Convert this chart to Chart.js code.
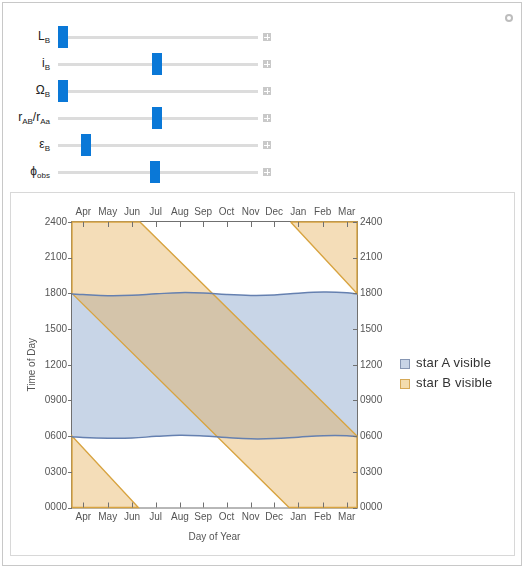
<!DOCTYPE html>
<html><head><meta charset="utf-8">
<script src="https://cdn.jsdelivr.net/npm/chart.js@4.4.0/dist/chart.umd.min.js"></script>
<style>
html,body{margin:0;padding:0;background:#fff;width:525px;height:569px;overflow:hidden;font-family:"Liberation Sans",Arial,sans-serif;}
.abs{position:absolute;}
#outer{left:2px;top:2px;width:520px;height:564px;border:1px solid #c8c8c8;box-sizing:border-box;background:#fff;}
#inner{left:10px;top:192px;width:505px;height:364px;border:1px solid #d8d8d8;box-sizing:border-box;background:#fff;}
.lbl{width:60px;text-align:right;font-size:12px;color:#222;line-height:16px;}
.lbl sub{font-size:8px;vertical-align:-3px;line-height:0;}
.track{height:3px;background:#dcdcdc;width:200px;left:58px;}
.thumb{width:10px;height:22px;background:#0a78d7;}
.plus{width:8px;height:8px;background:#c9c9c9;left:263px;}
.plus:before{content:"";position:absolute;left:1px;top:3.5px;width:6px;height:1px;background:#fff;}
.plus:after{content:"";position:absolute;left:3.5px;top:1px;width:1px;height:6px;background:#fff;}
#circ{left:505px;top:14px;width:8px;height:8px;border-radius:50%;background:#bdbdbd;}
#circ:before{content:"";position:absolute;left:2px;top:2px;width:4px;height:4px;border-radius:50%;background:#fff;}
.lg{font-size:13px;color:#333;line-height:16px;letter-spacing:0.2px;}
.sq{width:8px;height:8px;}
</style></head>
<body>
<div id="outer" class="abs"></div>
<div id="circ" class="abs"></div>
<div id="sliders"></div>
<div id="inner" class="abs"></div>
<div class="abs" style="left:10px;top:192px;width:505px;height:364px;">
<canvas id="c" width="505" height="364"></canvas>
</div>
<div class="abs sq" style="left:400px;top:359px;background:#c8d4e6;border:1px solid #8696b3;"></div>
<div class="abs lg" style="left:416px;top:355px;">star A visible</div>
<div class="abs sq" style="left:400px;top:379px;background:#f3dcae;border:1px solid #d6a957;"></div>
<div class="abs lg" style="left:416px;top:375px;">star B visible</div>
<script>
// ---- data ----
const sliderLabels = ['L<sub>B</sub>','i<sub>B</sub>','Ω<sub>B</sub>','r<sub>AB</sub>/r<sub>Aa</sub>','ε<sub>B</sub>','ϕ<sub>obs</sub>'];
const sliderFractions = [0.0, 0.47, 0.0, 0.47, 0.115, 0.46];

const monthTicks = [14.5, 45.7, 76.8, 107.1, 138.2, 168, 198, 228.8, 259, 289.7, 321, 351.8];
const monthLabels = ['Apr','May','Jun','Jul','Aug','Sep','Oct','Nov','Dec','Jan','Feb','Mar'];
const hourTicks = [0, 3, 6, 9, 12, 15, 18, 21, 24];
const hourLabels = ['0000','0300','0600','0900','1200','1500','1800','2100','2400'];

// star A (visible band between rise and set curves)
const curveDays = [0, 14, 46, 77, 108, 138, 168, 198, 229, 259, 290, 322, 352, 365];
const starARise = [5.95, 5.88, 5.82, 5.84, 5.98, 6.08, 6.02, 5.88, 5.77, 5.79, 5.91, 6.03, 6.03, 5.95];
const starASet  = [17.95, 17.9, 17.81, 17.84, 17.96, 18.06, 18.03, 17.9, 17.83, 17.86, 18.02, 18.11, 18.06, 17.95];

// star B visible regions (polygon outlines)
const bandBDays  = [0, 0, 87, 365, 365, 278, 0];
const bandBHours = [18, 24, 24, 6, 0, 0, 18];
const lowBDays   = [0, 0, 85, 0];
const lowBHours  = [0, 6, 0, 0];
const highBDays  = [280, 365, 365, 280];
const highBHours = [24, 24, 18, 24];

// ---- sliders (UI) ----
const rowsY = [37, 64, 91, 118, 145, 172];
let html = '';
sliderLabels.forEach((l, i) => {
  const cy = rowsY[i];
  html += `<div class="abs lbl" style="left:-10px;top:${cy-9}px;">${l}</div>`;
  html += `<div class="abs track" style="top:${cy-1}px;"></div>`;
  html += `<div class="abs thumb" style="left:${58 + sliderFractions[i]*200}px;top:${cy-11}px;"></div>`;
  html += `<div class="abs plus" style="top:${cy-4}px;"></div>`;
});
document.getElementById('sliders').innerHTML = html;

const pts = (xs, ys) => xs.map((x, i) => ({x, y: ys[i]}));

const ORANGE_FILL = 'rgba(228,175,85,0.42)';
const ORANGE_LINE = '#d8a441';
const BLUE_FILL = '#c8d5e7';
const BLUE_LINE = '#6580b0';

const frameTicks = {
  id: 'frameTicks',
  beforeDatasetsDraw(chart) {
    const {ctx, chartArea: a} = chart;
    ctx.save();
    ctx.strokeStyle = '#707070';
    ctx.lineWidth = 1;
    ctx.strokeRect(a.left - 0.5, a.top - 0.5, a.right - a.left + 1, a.bottom - a.top + 1);
    ctx.restore();
  },
  afterDatasetsDraw(chart) {
    const {ctx, chartArea: a, scales} = chart;
    ctx.save();
    ctx.strokeStyle = '#707070';
    ctx.lineWidth = 1;
    ctx.beginPath();
    monthTicks.forEach(v => {
      const px = Math.round(scales.x.getPixelForValue(v)) + 0.5;
      ctx.moveTo(px, a.bottom); ctx.lineTo(px, a.bottom - 5);
      ctx.moveTo(px, a.top); ctx.lineTo(px, a.top + 5);
    });
    hourTicks.forEach(v => {
      const py = Math.round(scales.y.getPixelForValue(v)) + 0.5;
      ctx.moveTo(a.left - 4, py); ctx.lineTo(a.left, py);
      ctx.moveTo(a.right - 4, py); ctx.lineTo(a.right, py);
    });
    ctx.stroke();
    ctx.restore();
  }
};

const font = {family: '"Liberation Sans", Arial, sans-serif', size: 10};
const xTicksCfg = {
  autoSkip: false, maxRotation: 0, minRotation: 0, font, color: '#555', padding: 4,
  callback: (v, i) => monthLabels[i]
};
const yTicksCfg = {
  autoSkip: false, font, color: '#555',
  callback: (v, i) => hourLabels[i]
};
const setMonths = s => { s.ticks = monthTicks.map(v => ({value: v})); };
const setHours = s => { s.ticks = hourTicks.map(v => ({value: v})); };

new Chart(document.getElementById('c'), {
  type: 'line',
  data: {
    datasets: [
      {label: 'A rise', data: pts(curveDays, starARise), order: 3, borderWidth: 0, pointRadius: 0, fill: false, tension: 0.4, borderColor: 'rgba(0,0,0,0)'},
      {label: 'star A visible', data: pts(curveDays, starASet), order: 2, borderWidth: 0, pointRadius: 0, fill: '-1', tension: 0.4, backgroundColor: BLUE_FILL, borderColor: 'rgba(0,0,0,0)'},
      {label: 'star B visible', data: pts(bandBDays, bandBHours), order: 1, fill: 'shape', backgroundColor: ORANGE_FILL, borderColor: ORANGE_LINE, borderWidth: 1.4, pointRadius: 0, tension: 0, clip: 3},
      {label: 'B low', data: pts(lowBDays, lowBHours), order: 1, fill: 'shape', backgroundColor: ORANGE_FILL, borderColor: ORANGE_LINE, borderWidth: 1.4, pointRadius: 0, tension: 0, clip: 3},
      {label: 'B high', data: pts(highBDays, highBHours), order: 1, fill: 'shape', backgroundColor: ORANGE_FILL, borderColor: ORANGE_LINE, borderWidth: 1.4, pointRadius: 0, tension: 0, clip: 3},
      {label: 'A rise line', data: pts(curveDays, starARise), order: 0, fill: false, borderColor: BLUE_LINE, borderWidth: 1.5, pointRadius: 0, tension: 0.4},
      {label: 'A set line', data: pts(curveDays, starASet), order: 0, fill: false, borderColor: BLUE_LINE, borderWidth: 1.5, pointRadius: 0, tension: 0.4}
    ]
  },
  options: {
    responsive: false,
    animation: false,
    layout: {padding: 0},
    plugins: {legend: {display: false}, tooltip: {enabled: false}},
    scales: {
      x: {
        type: 'linear', position: 'bottom', min: 0, max: 365,
        afterBuildTicks: setMonths,
        afterFit: s => { s.height = 48.5; },
        ticks: xTicksCfg,
        grid: {display: false, drawTicks: false},
        border: {display: false},
        title: {display: true, text: 'Day of Year', font, color: '#555', padding: {top: 0, bottom: 13}}
      },
      x2: {
        type: 'linear', position: 'top', min: 0, max: 365,
        afterBuildTicks: setMonths,
        afterFit: s => { s.height = 30; },
        ticks: Object.assign({}, xTicksCfg, {padding: 4}),
        grid: {display: false, drawTicks: false},
        border: {display: false}
      },
      y: {
        type: 'linear', position: 'left', min: 0, max: 24,
        afterBuildTicks: setHours,
        afterFit: s => { s.width = 62; },
        ticks: Object.assign({}, yTicksCfg, {padding: 5}),
        grid: {display: false, drawTicks: false},
        border: {display: false},
        title: {display: true, text: 'Time of Day', font, color: '#555', padding: {top: 16, bottom: 0}}
      },
      y2: {
        type: 'linear', position: 'right', min: 0, max: 24,
        afterBuildTicks: setHours,
        afterFit: s => { s.width = 158; },
        ticks: Object.assign({}, yTicksCfg, {padding: 3}),
        grid: {display: false, drawTicks: false},
        border: {display: false}
      }
    }
  },
  plugins: [frameTicks]
});
</script>
</body></html>
